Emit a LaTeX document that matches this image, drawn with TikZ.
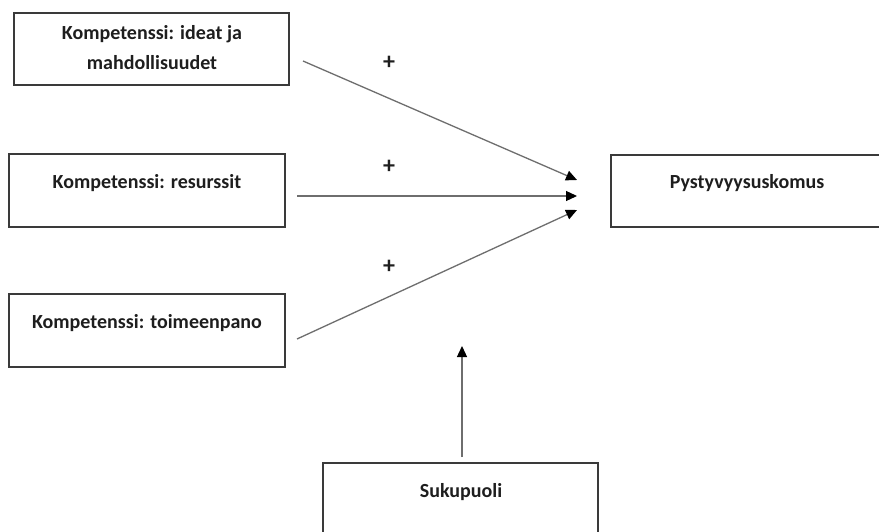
\documentclass[tikz,border=0pt]{standalone}
\usepackage{fontspec}
\setmainfont{Carlito}
\usetikzlibrary{arrows.meta}
\definecolor{boxline}{HTML}{3A3A3A}
\definecolor{arrline}{HTML}{6E6E6E}
\definecolor{txt}{HTML}{1E1E1E}
\begin{document}
\begin{tikzpicture}[x=1pt,y=-1pt,
  box/.style={draw=boxline, line width=1.8pt, rectangle, minimum width=275pt, minimum height=72pt, inner sep=0pt},
  lbl/.style={text=txt, font=\fontsize{20}{30}\selectfont\bfseries, align=center, inner sep=0pt},
  plus/.style={text=txt, font=\fontsize{24}{28}\selectfont\bfseries, inner sep=0pt},
  conn/.style={draw=arrline, line width=1.3pt, -{Triangle[length=11pt,width=10pt,color=black]}}]
\useasboundingbox (0,0) rectangle (879,532);
\fill[white] (0,0) rectangle (879,532);
% boxes
\node[box] (b1) at (151.5,49) {};
\node[box, minimum width=276pt, minimum height=73pt] (b2) at (147,190.5) {};
\node[box, minimum width=276pt, minimum height=73pt] (b3) at (147,330.5) {};
\node[box, minimum width=272pt, minimum height=72pt] (bp) at (747,191) {};
\node[box, minimum width=275pt, minimum height=72pt] (bs) at (460.5,499) {};
% texts
\node[lbl] (t1) at (152,48) {Kompetenssi: ideat ja\\mahdollisuudet};
\node[lbl] (t2) at (147,183) {Kompetenssi: resurssit};
\node[lbl] (t3) at (147,323) {Kompetenssi: toimeenpano};
\node[lbl] (tp) at (747,183) {Pystyvyysuskomus};
\node[lbl] (ts) at (461,492) {Sukupuoli};
% plus signs
\node[plus] (p1) at (389,63) {+};
\node[plus] (p2) at (389,167) {+};
\node[plus] (p3) at (389,267) {+};
% connector ends
\coordinate (s1) at (303,61);
\coordinate (e1) at (577,180);
\coordinate (s2) at (297,196);
\coordinate (e2) at (577,196);
\coordinate (s3) at (297,339);
\coordinate (e3) at (577,210);
\coordinate (s4) at (462,457);
\coordinate (e4) at (462,346);
\draw[conn] (s1) -- (e1);
\draw[conn] (s2) -- (e2);
\draw[conn] (s3) -- (e3);
\draw[conn] (s4) -- (e4);
\end{tikzpicture}
\end{document}
